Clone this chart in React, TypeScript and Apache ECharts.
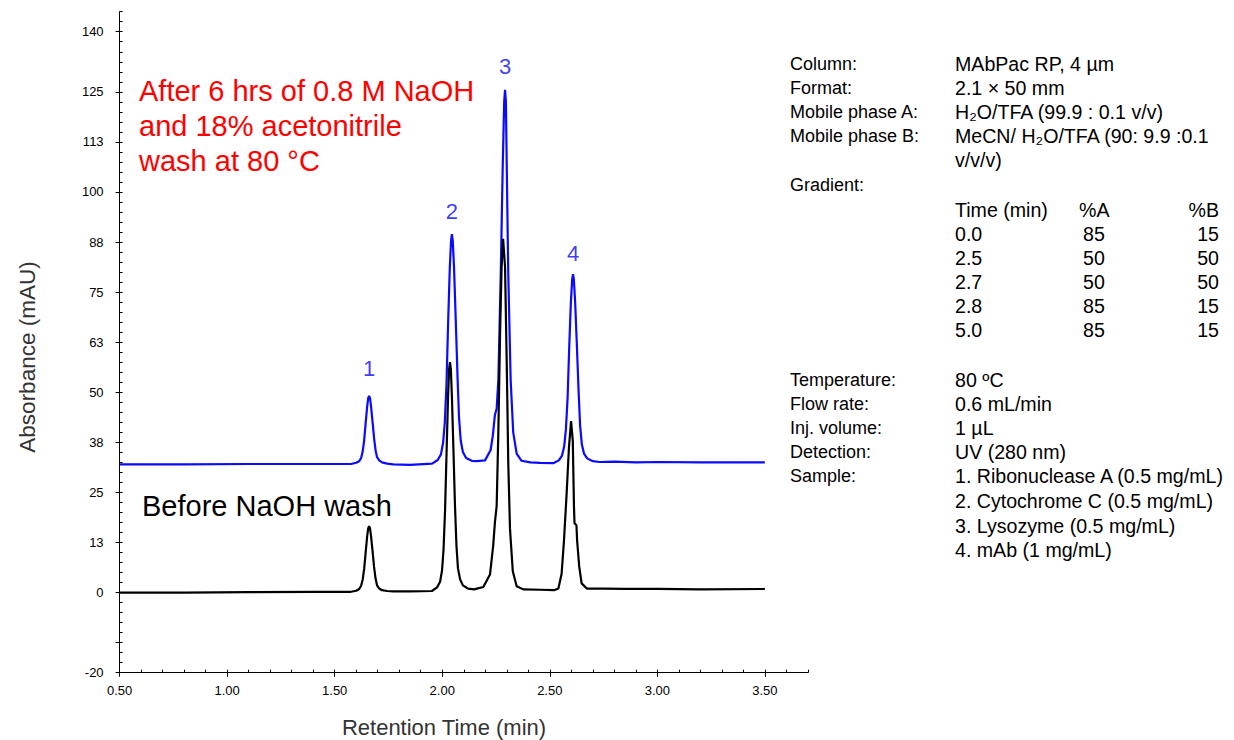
import React, { useEffect, useRef } from "react";
import * as echarts from "echarts";

// ---------- DATA ----------
// Blue trace: after 6 hrs of 0.8 M NaOH + 18% MeCN wash (time min, absorbance mAU)
const blueTrace: [number, number][] = [
  [0.5, 32.0], [0.8, 32.0], [1.1, 32.1], [1.4, 32.1], [1.576, 32.1],
  [1.6, 32.4], [1.614, 32.8], [1.623, 33.6], [1.63, 35.2], [1.637, 38.0],
  [1.644, 42.3], [1.651, 46.5], [1.656, 48.6], [1.66, 49.1], [1.664, 48.6],
  [1.669, 46.5], [1.676, 42.6], [1.683, 38.6], [1.69, 35.5], [1.697, 33.8],
  [1.707, 33.0], [1.72, 32.5], [1.744, 32.2], [1.772, 32.0], [1.85, 31.9],
  [1.953, 32.2], [1.979, 33.1], [1.994, 34.5], [2.004, 37.4], [2.012, 42.5],
  [2.02, 52.3], [2.027, 66.6], [2.035, 80.9], [2.041, 87.8], [2.045, 89.5],
  [2.049, 87.8], [2.055, 80.9], [2.063, 67.7], [2.071, 54.0], [2.078, 43.7],
  [2.086, 37.9], [2.096, 35.1], [2.111, 33.6], [2.137, 32.9], [2.16, 32.8],
  [2.199, 33.0], [2.225, 35.6], [2.235, 39.1], [2.245, 44.4], [2.253, 45.9],
  [2.261, 53.2], [2.272, 79.5], [2.281, 105.9], [2.288, 122.5], [2.292, 125.5],
  [2.296, 122.5], [2.3, 105.9], [2.307, 79.5], [2.318, 53.2], [2.33, 40.0],
  [2.346, 34.7], [2.369, 32.9], [2.41, 32.5], [2.455, 32.4], [2.516, 32.3],
  [2.542, 33.0], [2.557, 34.2], [2.567, 36.5], [2.575, 40.8], [2.583, 48.8],
  [2.59, 60.6], [2.598, 72.4], [2.604, 78.1], [2.608, 79.5], [2.612, 78.1],
  [2.618, 72.4], [2.626, 61.6], [2.634, 50.2], [2.641, 41.7], [2.649, 37.0],
  [2.659, 34.7], [2.674, 33.5], [2.7, 32.8], [2.731, 32.6], [2.8, 32.7],
  [2.9, 32.5], [3.0, 32.6], [3.2, 32.5], [3.5, 32.5],
];

// Black trace: before NaOH wash
const blackTrace: [number, number][] = [
  [0.5, 0.0], [0.8, 0.0], [1.1, 0.1], [1.4, 0.2], [1.576, 0.2],
  [1.6, 0.45], [1.614, 0.9], [1.623, 1.7], [1.63, 3.2], [1.637, 5.9],
  [1.644, 10.0], [1.651, 14.1], [1.656, 16.1], [1.66, 16.6], [1.664, 16.1],
  [1.669, 14.1], [1.676, 10.4], [1.683, 6.4], [1.69, 3.5], [1.697, 1.8],
  [1.707, 1.0], [1.72, 0.6], [1.744, 0.4], [1.772, 0.3], [1.85, 0.3],
  [1.952, 0.4], [1.976, 1.3], [1.99, 2.7], [1.999, 5.5], [2.006, 10.7],
  [2.013, 20.4], [2.02, 34.7], [2.027, 48.9], [2.032, 55.8], [2.036, 57.5],
  [2.04, 55.8], [2.045, 48.9], [2.052, 35.8], [2.059, 22.1], [2.066, 11.8],
  [2.073, 6.1], [2.083, 3.3], [2.096, 1.8], [2.12, 1.0], [2.148, 0.8],
  [2.191, 1.4], [2.222, 4.5], [2.237, 11.8], [2.245, 17.6], [2.253, 21.6],
  [2.261, 40.5], [2.269, 65.0], [2.276, 81.3], [2.283, 88.3], [2.292, 81.3],
  [2.3, 56.8], [2.307, 32.3], [2.315, 15.9], [2.328, 5.3], [2.346, 1.6],
  [2.377, 0.8], [2.455, 0.7], [2.52, 0.6], [2.54, 1.0], [2.555, 4.7],
  [2.566, 13.0], [2.579, 25.4], [2.589, 36.2], [2.599, 42.8], [2.607, 37.8],
  [2.6125, 21.3], [2.615, 17.3], [2.624, 16.8], [2.627, 13.0], [2.637, 6.4],
  [2.648, 2.3], [2.672, 1.0], [2.75, 1.0], [2.85, 0.9], [3.0, 0.9],
  [3.2, 0.8], [3.5, 0.9],
];

// Peak numbers (on blue trace apexes)
const peakNames = ["1", "2", "3", "4"];
const peakTimes = [1.66, 2.045, 2.292, 2.608];
const peakHeights = [49.1, 89.5, 125.5, 79.5];

// Axis ticks
const xMajorTicks = [0.5, 1.0, 1.5, 2.0, 2.5, 3.0, 3.5];
const yLabelValues = [-20, 0, 12.5, 25, 37.5, 50, 62.5, 75, 87.5, 100, 112.5, 125, 140];
const yMajorTicks = [-20, -12.5, 0, 12.5, 25, 37.5, 50, 62.5, 75, 87.5, 100, 112.5, 125, 140];

// Annotation texts
const redNote = ["After 6 hrs of 0.8 M NaOH", "and 18% acetonitrile", "wash at 80 \u00B0C"];
const blackNote = "Before NaOH wash";

const conditionsTop: [string, string][] = [
  ["Column:", "MAbPac RP, 4 \u00B5m"],
  ["Format:", "2.1 \u00D7 50 mm"],
  ["Mobile phase A:", "H\u2082O/TFA (99.9 : 0.1 v/v)"],
  ["Mobile phase B:", "MeCN/ H\u2082O/TFA (90: 9.9 :0.1"],
  ["", "v/v/v)"],
  ["Gradient:", ""],
];
const gradHeader = ["Time (min)", "%A", "%B"];
const gradTime = ["0.0", "2.5", "2.7", "2.8", "5.0"];
const gradA = ["85", "50", "50", "85", "85"];
const gradB = ["15", "50", "50", "15", "15"];
const conditionsBottom: [string, string][] = [
  ["Temperature:", "80 \u00BAC"],
  ["Flow rate:", "0.6 mL/min"],
  ["Inj. volume:", "1 \u00B5L"],
  ["Detection:", "UV (280 nm)"],
  ["Sample:", "1. Ribonuclease A (0.5 mg/mL)"],
  ["", "2. Cytochrome C (0.5 mg/mL)"],
  ["", "3. Lysozyme (0.5 mg/mL)"],
  ["", "4. mAb (1 mg/mL)"],
];

// ---------- LAYOUT / STYLE ----------
const FONT = "'Liberation Sans', Arial, Helvetica, sans-serif";
const BLUE = "#0a0aff";
const topRowsY = [64, 88, 112, 136, 160, 185];
const gradRowsY = [234, 258, 282, 306, 330];
const gradHeaderY = 210;
const bottomRowsY = [380, 404, 428, 452, 476, 501, 526, 550];
const peakLabelDist = [16, 12, 12, 10];
const LABEL_FS = 18;
const VALUE_FS = 19.6;

function txt(x: number, y: number, text: string, size: number, fill: string, align = "left", extra: any = {}) {
  return {
    type: "text",
    x,
    y,
    silent: true,
    ...extra,
    style: {
      text,
      fontSize: size,
      fontFamily: FONT,
      fill,
      align,
      verticalAlign: "middle",
    },
  };
}

export default function App() {
  const ref = useRef<HTMLDivElement>(null);

  useEffect(() => {
    if (!ref.current) return;
    const chart = echarts.init(ref.current, undefined, { renderer: "svg" });

    const graphics: any[] = [];
    redNote.forEach((line, i) => graphics.push(txt(139, 91 + i * 35, line, 29, "#ff0000")));
    graphics.push(txt(142, 506, blackNote, 29, "#000000"));
    graphics.push(txt(27, 357, "Absorbance (mAU)", 22.5, "#333333", "center", { rotation: Math.PI / 2 }));
    graphics.push(txt(444, 727, "Retention Time (min)", 22, "#333333", "center"));

    conditionsTop.forEach(([a, b], i) => {
      if (a) graphics.push(txt(790, topRowsY[i], a, LABEL_FS, "#000"));
      if (b) graphics.push(txt(955, topRowsY[i], b, VALUE_FS, "#000"));
    });
    graphics.push(txt(955, gradHeaderY, gradHeader[0], VALUE_FS, "#000"));
    graphics.push(txt(1079, gradHeaderY, gradHeader[1], VALUE_FS, "#000"));
    graphics.push(txt(1219, gradHeaderY, gradHeader[2], VALUE_FS, "#000", "right"));
    gradTime.forEach((t, i) => {
      graphics.push(txt(955, gradRowsY[i], t, VALUE_FS, "#000"));
      graphics.push(txt(1083, gradRowsY[i], gradA[i], VALUE_FS, "#000"));
      graphics.push(txt(1219, gradRowsY[i], gradB[i], VALUE_FS, "#000", "right"));
    });
    conditionsBottom.forEach(([a, b], i) => {
      if (a) graphics.push(txt(790, bottomRowsY[i], a, LABEL_FS, "#000"));
      if (b) graphics.push(txt(955, bottomRowsY[i], b, VALUE_FS, "#000"));
    });

    const axisCommon = {
      type: "value",
      splitLine: { show: false },
    };

    const option: any = {
      animation: false,
      backgroundColor: "#ffffff",
      grid: { left: 119.6, right: 426.1, top: 11.7, bottom: 67.3, containLabel: false },
      xAxis: [
        {
          ...axisCommon,
          min: 0.5,
          max: 3.7,
          interval: 0.5,
          position: "bottom",
          axisLine: { show: true, onZero: false, lineStyle: { color: "#000", width: 1 } },
          axisTick: { show: true, inside: false, length: 4, customValues: xMajorTicks, lineStyle: { color: "#000" } },
          axisLabel: {
            show: true,
            customValues: xMajorTicks,
            formatter: (v: number) => v.toFixed(2),
            margin: 11,
            color: "#000",
            fontSize: 13,
            fontFamily: FONT,
          },
        },
        {
          ...axisCommon,
          min: 0.5,
          max: 3.7,
          interval: 0.1,
          position: "bottom",
          axisLine: { show: false, onZero: false },
          axisTick: { show: true, inside: true, length: 3, lineStyle: { color: "#000" } },
          axisLabel: { show: false },
        },
      ],
      yAxis: [
        {
          ...axisCommon,
          min: -20,
          max: 145,
          interval: 2.5,
          position: "left",
          axisLine: { show: true, onZero: false, lineStyle: { color: "#000", width: 1 } },
          axisTick: { show: true, inside: false, length: 4, customValues: yMajorTicks, lineStyle: { color: "#000" } },
          axisLabel: {
            show: true,
            customValues: yLabelValues,
            formatter: (v: number) => String(Math.round(v)),
            margin: 16,
            color: "#000",
            fontSize: 13,
            fontFamily: FONT,
          },
        },
        {
          ...axisCommon,
          min: -20,
          max: 145,
          interval: 2.5,
          position: "left",
          axisLine: { show: false, onZero: false },
          axisTick: { show: true, inside: true, length: 3, lineStyle: { color: "#000" } },
          axisLabel: { show: false },
        },
      ],
      series: [
        {
          name: "After NaOH wash",
          type: "line",
          xAxisIndex: 0,
          yAxisIndex: 0,
          data: blueTrace,
          showSymbol: false,
          symbol: "none",
          lineStyle: { color: BLUE, width: 2.2 },
          itemStyle: { color: BLUE },
          z: 2,
        },
        {
          name: "Before NaOH wash",
          type: "line",
          xAxisIndex: 0,
          yAxisIndex: 0,
          data: blackTrace,
          showSymbol: false,
          symbol: "none",
          lineStyle: { color: "#000", width: 2.2 },
          itemStyle: { color: "#000" },
          z: 3,
        },
        {
          name: "Peaks",
          type: "scatter",
          xAxisIndex: 0,
          yAxisIndex: 0,
          symbolSize: 0,
          silent: true,
          data: peakTimes.map((t, i) => ({
            value: [t, peakHeights[i]],
            label: { distance: peakLabelDist[i] },
          })),
          label: {
            show: true,
            position: "top",
            formatter: (p: any) => peakNames[p.dataIndex],
            color: BLUE,
            fontSize: 22,
            fontFamily: FONT,
          },
          z: 4,
        },
      ],
      graphic: graphics,
    };

    chart.setOption(option);
    return () => chart.dispose();
  }, []);

  return (
    <div
      ref={ref}
      style={{ position: "fixed", left: 0, top: 0, width: 1234, height: 740, background: "#fff" }}
    />
  );
}
